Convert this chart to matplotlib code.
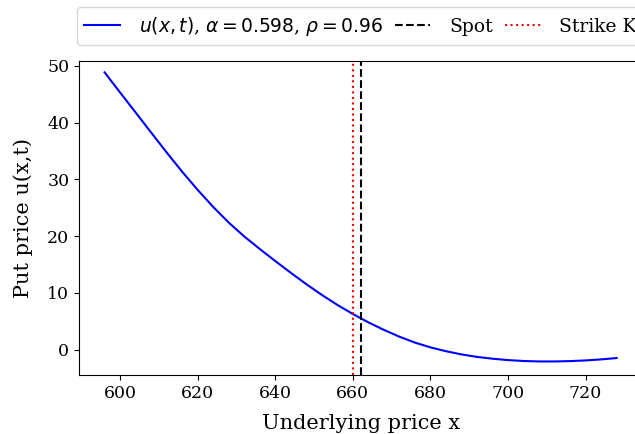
import matplotlib
matplotlib.use("Agg")
import matplotlib.pyplot as plt

plt.rcParams['font.family'] = 'DejaVu Serif'
plt.rcParams['font.size'] = 12

# put price curve u(x,t) sampled over the underlying price
x_vals = [596, 600, 604, 608, 612, 616, 620, 624, 628, 632, 636, 640, 644,
          648, 652, 656, 660, 664, 668, 672, 676, 680, 684, 688, 692, 696,
          700, 704, 708, 712, 716, 720, 724, 728]
u_vals = [48.85, 45.3, 41.78, 38.25, 34.75, 31.35, 28.15, 25.15, 22.4, 19.95,
          17.75, 15.62, 13.55, 11.55, 9.66, 7.9, 6.3, 4.82, 3.5, 2.3, 1.26,
          0.42, -0.26, -0.82, -1.26, -1.58, -1.82, -1.98, -2.06, -2.06, -2.0,
          -1.88, -1.7, -1.46]

alpha = 0.598
rho = 0.96
spot = 662
strike = 660

fig = plt.figure(figsize=(6.35, 4.34), dpi=100)
ax = fig.add_axes([0.1244, 0.1359, 0.887, 0.7242])

ax.plot(x_vals, u_vals, color='blue', lw=1.5,
        label=r'$u(x,t)$, $\alpha=%.3f$, $\rho=%.2f$' % (alpha, rho))
ax.axvline(spot, color='black', ls='--', lw=1.5, label='Spot')
ax.axvline(strike, color='red', ls=':', lw=1.5, label='Strike K')

ax.set_xlim(589.4, 734.6)
ax.set_ylim(-4.45, 50.9)
ax.set_xlabel('Underlying price x', fontsize=15, labelpad=8.5)
ax.set_ylabel('Put price u(x,t)', fontsize=15, labelpad=10)
ax.tick_params(labelsize=12.5)

fig.legend(loc='lower left', bbox_to_anchor=(0.121, 0.896), ncol=3,
           borderaxespad=0, bbox_transform=fig.transFigure,
           handlelength=1.9, handletextpad=1.0, columnspacing=0.65,
           fontsize=13.5)

fig.savefig('out.png', dpi=100)
